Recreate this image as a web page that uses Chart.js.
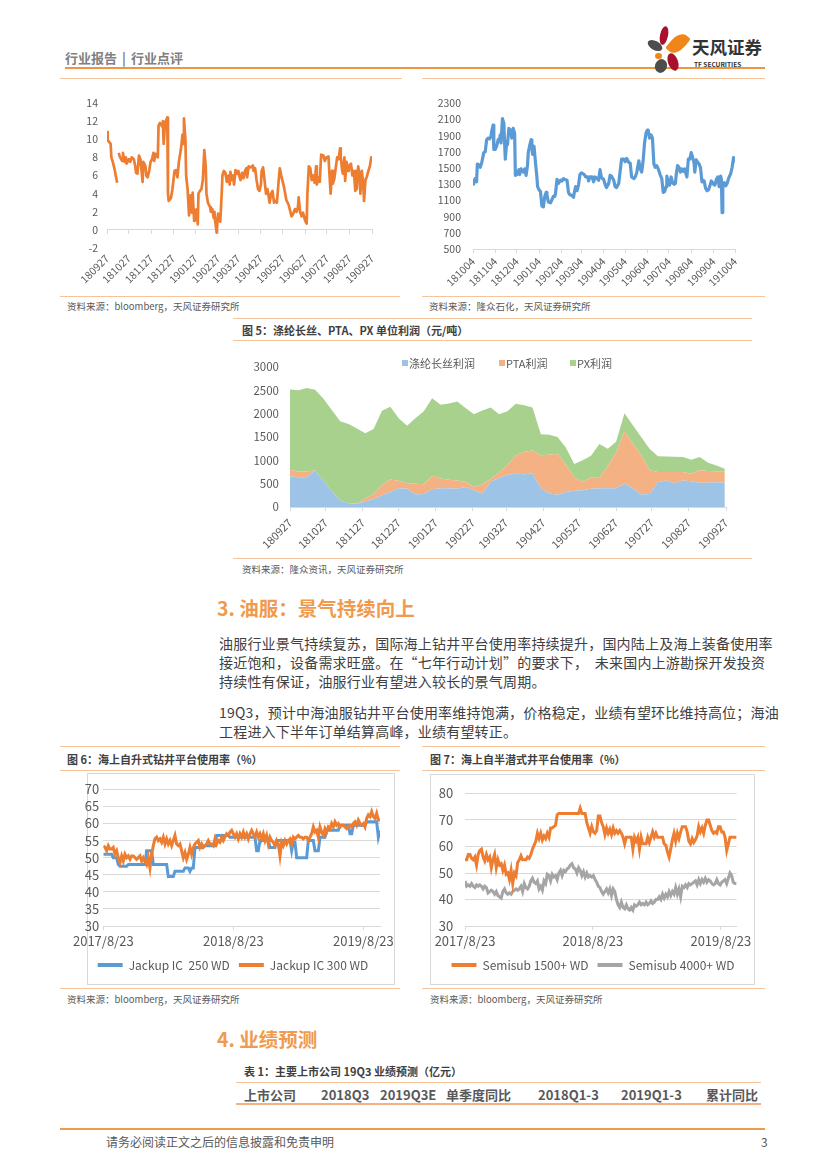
<!DOCTYPE html>
<html><head><meta charset="utf-8">
<script src="https://cdn.jsdelivr.net/npm/chart.js@4.4.0/dist/chart.umd.min.js"></script>
<style>
html,body{margin:0;padding:0;background:#fff;}
#page{position:relative;width:827px;height:1169px;overflow:hidden;background:#fff;font-family:"Noto Sans CJK SC","Noto Sans",sans-serif;}
.t{position:absolute;white-space:nowrap;line-height:1;}
.hl{position:absolute;height:1px;background:#F6C49A;}
.box{position:absolute;border:1px solid #D9D9D9;box-sizing:border-box;}
.cw{position:absolute;}
.petal{position:absolute;border-radius:50%;}
.src{font-size:9.5px;color:#595959;}
.ftitle{font-size:11px;font-weight:bold;color:#404040;}
.para{font-size:14px;color:#404040;letter-spacing:0.2px;}
.h2{font-size:19.5px;font-weight:bold;color:#EF9A4E;}
.th{font-size:13px;font-weight:bold;color:#595959;}
.lg{font-size:11px;color:#595959;}
.lgbox{position:absolute;width:6px;height:6px;}
</style></head>
<body><div id="page">

<!-- header -->
<div class="t" style="left:65px;top:51px;font-size:13px;font-weight:bold;color:#808080;">行业报告<span style="margin:0 5px;">|</span>行业点评</div>
<div style="position:absolute;left:65px;top:67px;width:700px;height:2px;background:#EF9440;"></div>
<div class="petal" style="left:660px;top:26px;width:8px;height:19px;background:#A8102E;transform:rotate(12deg);"></div>
<div class="petal" style="left:671px;top:32px;width:14px;height:23px;background:#F08519;transform:rotate(40deg);border-radius:60% 10% 60% 10%;"></div>
<div class="petal" style="left:647px;top:41px;width:16px;height:9px;background:#4D4D4D;transform:rotate(30deg);"></div>
<div class="petal" style="left:655px;top:53px;width:7px;height:6px;background:#F08519;"></div>
<div class="petal" style="left:668px;top:53px;width:10px;height:18px;background:#A8102E;transform:rotate(-20deg);"></div>
<div class="petal" style="left:655px;top:59px;width:12px;height:14px;background:#4D4D4D;transform:rotate(20deg);"></div>
<div class="t" style="left:692px;top:38px;font-size:17.5px;font-weight:bold;color:#333;">天风证券</div>
<div class="t" style="left:694px;top:61px;font-size:6.5px;font-weight:bold;color:#333;">TF SECURITIES</div>
<div class="hl" style="left:60px;top:78px;width:342px;"></div>
<div class="hl" style="left:422px;top:78px;width:343px;"></div>

<!-- top-left chart -->
<div class="cw" style="left:60px;top:85px;width:340px;height:210px;"><canvas id="c1"></canvas></div>
<div class="hl" style="left:60px;top:296px;width:340px;"></div>
<div class="t src" style="left:67px;top:302px;">资料来源：bloomberg，天风证券研究所</div>

<!-- top-right chart -->
<div class="cw" style="left:420px;top:85px;width:345px;height:210px;"><canvas id="c2"></canvas></div>
<div class="hl" style="left:422px;top:296px;width:343px;"></div>
<div class="t src" style="left:429px;top:302px;">资料来源：隆众石化，天风证券研究所</div>

<!-- figure 5 -->
<div class="hl" style="left:233px;top:318px;width:519px;"></div>
<div class="t ftitle" style="left:242px;top:324.5px;">图 5：涤纶长丝、PTA、PX 单位利润（元/吨）</div>
<div class="hl" style="left:233px;top:340px;width:519px;"></div>
<div class="cw" style="left:233px;top:345px;width:522px;height:210px;"><canvas id="c5"></canvas></div>
<div class="lgbox" style="left:402px;top:360px;background:#9DC3E6;"></div>
<div class="t lg" style="left:409px;top:357.5px;">涤纶长丝利润</div>
<div class="lgbox" style="left:499px;top:360px;background:#F4B183;"></div>
<div class="t lg" style="left:506px;top:357.5px;">PTA利润</div>
<div class="lgbox" style="left:570px;top:360px;background:#A9D18E;"></div>
<div class="t lg" style="left:577px;top:357.5px;">PX利润</div>
<div class="hl" style="left:233px;top:558px;width:519px;"></div>
<div class="t src" style="left:242px;top:565px;">资料来源：隆众资讯，天风证券研究所</div>

<!-- section 3 -->
<div class="t h2" style="left:217px;top:598px;">3. 油服：景气持续向上</div>
<div class="t para" style="left:219px;top:635.5px;">油服行业景气持续复苏，国际海上钻井平台使用率持续提升，国内陆上及海上装备使用率</div>
<div class="t para" style="left:219px;top:654.5px;">接近饱和，设备需求旺盛。在“七年行动计划”的要求下，&nbsp;&nbsp;未来国内上游勘探开发投资</div>
<div class="t para" style="left:219px;top:674px;">持续性有保证，油服行业有望进入较长的景气周期。</div>
<div class="t para" style="left:219px;top:704.5px;">19Q3，预计中海油服钻井平台使用率维持饱满，价格稳定，业绩有望环比维持高位；海油</div>
<div class="t para" style="left:219px;top:723.5px;">工程进入下半年订单结算高峰，业绩有望转正。</div>

<!-- figure 6 -->
<div class="hl" style="left:60px;top:746px;width:340px;"></div>
<div class="t ftitle" style="left:67px;top:754px;">图 6：海上自升式钻井平台使用率（%）</div>
<div class="hl" style="left:60px;top:770px;width:340px;"></div>
<div class="box" style="left:87px;top:773px;width:308px;height:212px;"></div>
<div class="cw" style="left:66px;top:774px;width:334px;height:210px;"><canvas id="c6"></canvas></div>
<div class="hl" style="left:60px;top:988px;width:340px;"></div>
<div class="t src" style="left:67px;top:995px;">资料来源：bloomberg，天风证券研究所</div>

<!-- figure 7 -->
<div class="hl" style="left:422px;top:746px;width:343px;"></div>
<div class="t ftitle" style="left:430px;top:754px;">图 7：海上自半潜式井平台使用率（%）</div>
<div class="hl" style="left:422px;top:770px;width:343px;"></div>
<div class="box" style="left:430px;top:774px;width:325px;height:211px;"></div>
<div class="cw" style="left:430px;top:774px;width:325px;height:210px;"><canvas id="c7"></canvas></div>
<div class="hl" style="left:422px;top:988px;width:343px;"></div>
<div class="t src" style="left:430px;top:995px;">资料来源：bloomberg，天风证券研究所</div>

<!-- section 4 -->
<div class="t h2" style="left:217px;top:1029px;">4. 业绩预测</div>
<div class="t ftitle" style="left:244px;top:1066px;">表 1：主要上市公司 19Q3 业绩预测（亿元）</div>
<div class="hl" style="left:236px;top:1082px;width:525px;"></div>
<div class="t th" style="left:244px;top:1087.5px;">上市公司</div>
<div class="t th" style="left:321px;top:1087.5px;">2018Q3</div>
<div class="t th" style="left:380px;top:1087.5px;">2019Q3E</div>
<div class="t th" style="left:446px;top:1087.5px;">单季度同比</div>
<div class="t th" style="left:538px;top:1087.5px;">2018Q1-3</div>
<div class="t th" style="left:621px;top:1087.5px;">2019Q1-3</div>
<div class="t th" style="left:706px;top:1087.5px;">累计同比</div>
<div style="position:absolute;left:236px;top:1103px;width:525px;height:2px;background:#F4B183;"></div>

<!-- footer -->
<div style="position:absolute;left:60px;top:1128px;width:705px;height:2px;background:#EF9A4A;"></div>
<div class="t" style="left:106px;top:1135.5px;font-size:12px;color:#595959;">请务必阅读正文之后的信息披露和免责申明</div>
<div class="t" style="left:761px;top:1135.5px;font-size:12px;color:#595959;">3</div>

</div>
<script>
// ---------- data ----------
// Top-left chart (dates: days after 2018-09-27)
const leftDays = [
 0,1,5,6,8,11,12,14,15,16,
 18,21,22,24,26,27,30,32,34,37,
 39,40,42,44,46,47,49,50,53,54,
 56,58,60,62,64,65,67,70,71,73,
 76,77,78,80,82,83,84,85,88,90,
 93,95,97,99,102,104,105,106,108,109,
 111,113,115,117,118,120,121,123,124,125,
 126,128,130,132,134,136,137,139,142,143,
 145,147,148,149,151,153,155,156,158,159,
 161,163,165,167,169,170,172,174,175,177,
 179,181,182,184,186,188,190,192,193,195,
 198,201,202,204,206,208,210,212,213,215,
 217,219,221,223,224,226,228,230,232,234,
 236,238,240,243,245,247,250,252,254,256,
 259,261,263,264,266,268,270,273,275,276,
 278,280,282,284,286,288,289,291,293,295,
 298,300,302,305,308,310,311,313,315,317,
 319,321,322,324,325,327,328,330,332,333,
 336,338,340,342,343,344,346,348,349,351,
 353,354,356,358,360,362,364,365];
const leftValues = [
 10.8,9.9,9.5,8.0,7.5,6.5,6.0,5.2,null,8.5,
 8.0,7.6,8.5,7.5,8.0,7.3,7.8,7.5,8.0,7.8,
 7.0,6.3,6.2,8.2,7.8,7.0,5.3,7.5,7.0,6.0,
 5.8,6.5,7.5,7.8,8.5,7.6,8.4,8.0,11.5,11.8,
 11.4,12.0,9.5,11.8,12.2,12.4,4.0,3.2,3.5,4.4,
 6.5,6.6,5.8,7.5,9.0,10.5,9.5,12.3,10.0,6.0,
 4.5,1.6,3.8,1.9,4.1,1.0,2.2,1.5,2.3,0.6,
 4.0,4.3,4.5,5.5,8.8,7.0,4.0,3.0,2.5,2.0,
 2.3,1.3,2.0,1.0,-0.3,1.8,1.2,0.9,4.0,6.0,
 6.5,6.3,5.3,6.0,5.0,6.4,5.5,6.0,5.0,6.6,
 6.2,6.5,6.0,5.5,6.3,5.7,6.5,6.8,5.8,7.0,
 6.9,7.1,6.5,6.8,5.5,4.5,4.3,5.0,6.5,6.9,
 5.5,4.0,4.5,3.5,3.0,4.0,4.3,3.0,3.2,3.0,
 5.0,6.8,6.0,5.0,4.2,3.3,2.8,2.2,1.5,1.7,
 2.3,2.0,2.5,3.6,2.0,1.5,1.9,1.0,0.7,4.0,
 7.0,6.8,5.5,6.0,5.2,7.0,5.0,5.8,5.3,8.3,
 8.2,7.6,8.0,8.1,4.0,6.5,5.1,5.6,6.8,8.0,
 7.8,9.0,8.0,6.5,6.2,8.0,5.4,7.5,6.5,7.0,
 7.3,6.0,6.5,4.3,6.5,4.5,7.0,6.0,4.0,6.5,
 5.0,3.2,5.5,5.9,6.5,7.0,8.0,7.8];
const monthLabelsA = ['180927','181027','181127','181227','190127','190227','190327','190427','190527','190627','190727','190827','190927'];
const monthDaysA = [0,30,61,91,122,153,181,212,242,273,303,334,365];

// Top-right chart (days after 2018-10-04)
const rightDays = [
 0,1,3,5,6,8,10,12,15,17,
 19,21,23,25,26,28,29,31,33,35,
 37,38,39,41,43,44,45,47,48,50,
 51,53,54,56,58,59,61,64,65,67,
 70,72,74,76,77,79,81,82,83,85,
 87,89,90,92,94,96,98,100,102,103,
 105,108,110,112,114,115,117,119,122,124,
 126,128,131,133,135,138,140,141,143,145,
 147,149,151,153,155,157,160,161,163,166,
 168,170,173,175,177,179,182,184,186,189,
 191,193,196,198,200,203,205,207,210,212,
 214,217,219,221,224,226,228,231,233,235,
 237,239,241,243,244,246,248,250,252,254,
 256,258,261,263,265,267,269,270,272,274,
 276,278,280,282,283,285,287,289,291,293,
 295,296,298,300,302,304,306,308,309,311,
 313,315,317,319,320,322,324,326,328,330,
 332,333,335,337,339,341,343,345,346,347,
 348,350,352,354,356,357,359,361,363,364,
 365];
const rightValues = [
 1302,1330,1370,1330,1550,1542,1510,1560,1690,1700,
 1850,1870,1860,1890,1950,2030,1730,1730,1770,1850,
 1860,1910,1810,2110,2050,1810,1610,1830,1790,1990,
 1910,1970,1870,1990,1930,1410,1420,1480,1420,1490,
 1450,1490,1410,1540,1690,1780,1850,1770,1670,1770,
 1570,1390,1270,1230,1210,1030,1020,1150,1200,1170,
 1080,1070,1110,1150,1150,1190,1360,1310,1350,1340,
 1370,1360,1350,1200,1170,1160,1140,1190,1270,1220,
 1290,1420,1440,1430,1420,1390,1390,1340,1390,1390,
 1330,1390,1370,1350,1480,1380,1360,1300,1260,1310,
 1410,1400,1350,1270,1260,1310,1460,1610,1610,1580,
 1620,1570,1560,1390,1370,1390,1440,1590,1490,1450,
 1590,1810,1930,1970,1970,1870,1910,1870,1550,1510,
 1530,1490,1410,1370,1200,1210,1270,1400,1330,1290,
 1390,1320,1300,1310,1410,1530,1510,1450,1490,1460,
 1490,1450,1390,1610,1610,1690,1630,1560,1450,1600,
 1570,1550,1500,1330,1350,1340,1250,1220,1230,1280,
 1340,1330,1300,1290,1360,1390,1270,1400,1360,950,
 1310,1320,1280,1310,1370,1390,1430,1510,1630,1610,
 1570];
const monthLabelsB = ['181004','181104','181204','190104','190204','190304','190404','190504','190604','190704','190804','190904','191004'];
const monthDaysB = [0,31,61,92,123,151,182,212,243,273,304,335,365];

// Figure 5: weekly profit (元/吨), weeks after 2018-09-27
const fig5Weeks = Array.from({length:53}, (_, i) => i * 7);
const filamentProfit = [660,640,640,780,560,330,140,80,70,120,170,250,320,400,390,270,280,380,400,400,390,430,360,290,540,620,690,710,700,720,400,290,260,320,350,360,390,400,400,400,500,400,270,280,530,570,510,570,550,520,520,530,520];
const ptaProfit = [140,120,120,0,0,0,0,0,0,60,110,220,270,160,125,230,210,290,210,185,180,110,70,200,60,120,210,400,480,490,710,830,880,580,280,180,240,220,480,770,1120,960,840,510,220,180,240,180,165,265,250,235,230];
const pxProfit = [1720,1740,1790,1730,1760,1750,1700,1700,1610,1400,1390,1590,1560,1340,1225,1400,1560,1660,1580,1635,1690,1580,1560,1580,1530,1250,1150,1100,1000,920,450,430,360,370,290,460,470,730,370,230,390,390,390,460,340,330,325,320,295,285,180,125,70];

// Figure 6 / 7: utilisation (%), sampled from 2017-08-23
const yearLabels = ['2017/8/23','2018/8/23','2019/8/23'];
const yearDays = [0,365,730];
const fig6SampleDays = 365 / 78;
const jackup250 = [
 51,51,51,51,51,51,50,50,50,48,
 47.5,47.5,47.5,47.5,47.5,48,48,48,48,48,
 48,48,48,48,48,48,52,52,52,52,
 48,48,48,48,48,48,48,48,48,44.5,
 44.5,44.5,44.5,46,46,46,46,46,46,47,
 47,47,46,47,47,53,53,53,53,53,
 53.5,53.5,53.5,53.5,53.5,53.5,53.5,53.5,56.5,56.5,
 56.5,56.5,56.5,56.5,56.5,56.5,56,56,56,56,
 56,56,56,56,56,56,56,56,56,56,
 56,56,52,52,55,55,55,55,55,55,
 53,53,53,53,55,55,55,55,55,55,
 55,55,55,52,54.5,54.5,50,50,50,50,
 50,50,50,55,55,55,55,52,52,52,
 56,56,56,56,58,58,58,58,58,58,
 58,58,59.5,59.5,59.5,59.5,59.5,59.5,57,57,
 59.5,59.5,59.5,59.5,59.5,59.5,59.5,59.5,60.5,60.5,
 60.5,60.5,60.5,60.5,60.5,56,58];
const jackup300 = [
 53.5,53,52,53.5,52.5,52.5,53,51,52,50,
 48.5,50.5,49,51,50,50.5,49.5,50.5,50.5,50,
 49.5,50,50.5,49,50,49,48,50,47,51,
 53.5,55.5,56,55,55.5,54.5,56,54,55.5,54,
 55,53.5,55,56.5,54,53.5,54,52,50,51.5,
 49.5,51,53,51,53,54,54.5,55,53,54,
 53,53.5,54,55,54,54,53.5,55.5,54,55,
 54.5,56,55,56,57,56.5,57.5,58,57,56,
 57,55.5,57,56,57.5,56,57,55.5,57,58,
 57,56,57.5,56,57,55.5,57,55,56.5,54,
 56,55,54.5,53.5,55,54,50.5,54.5,53.5,55,
 54,55,55.5,54,56,55.5,56,56.5,56,56,
 55.5,56,56,55,56,57,59,57.5,58,56,
 59,57.5,56.5,58.5,57.5,59,58.5,60,59,60.5,
 59.5,60,59,59.5,59.5,59,58.5,59,59.5,59,
 60,60.5,59.5,61,60,59.5,60,59,61.5,62.5,
 62,63.5,62,61.5,63,61,61];
const fig7SampleDays = 365 * 5 / 388.5;
const semisub1500 = [
 55,55,57,57,55.5,55,56,53,57,58.5,
 59,56,54.5,57,55,56,52,55,57,52,
 55,53,53.5,51,53,49.5,50,47.5,51,46,
 50,49,54,55,56.5,55,55,55,56,55.5,
 57,59,60.5,62,65,63,65,62.5,64,63,
 65,63.5,67,67,67.5,68,72,72.5,72.5,72.5,
 72.5,72.5,72.5,72.5,72.5,72.5,72.5,72.5,72.5,72.5,
 74.5,72.5,72.5,72.5,69,67,65,67.5,65.5,65,
 66,71.5,71.5,69,67.5,64.5,67,65,66.5,64.5,
 67,65,66,65,66,65,63.5,61,63.5,63.5,
 63.5,63.5,59,63.5,62,63.5,59,63.5,61,61,
 61,63.5,61.5,63.5,65.5,63.5,65,63.5,63.5,63.5,
 63.5,61,60.5,58,56,59,62.5,65,62,65,
 63,65.5,67.5,67.5,67.5,65.5,62,61,63,61.5,
 62.5,64,67.5,65.5,67,65,68,70,70,68,
 66,65,65.5,65,67.5,67.5,65.5,65.5,63.5,58.5,
 61,63.5,63.5,63.5,63.5,63.5];
const semisub4000 = [
 47,45,45.5,45,46,45,44.5,45.5,45,45.5,
 45,44,45,44.5,42.5,43,43.5,43,42,43,
 41.5,41,40.5,43,44,42.5,42,42.5,42,43,
 43.5,44,43.5,44,45,43,46,44.5,44,45,
 47,48,46.5,46,47,44,45,43.5,47,46,
 49.5,49,47,49.5,48.5,49,47.5,50,51,49,
 51,50.5,51.5,52,53,53.5,52,51.5,50,52,
 51,49,50.5,48.5,50,48.5,49,48.5,49,47.5,
 46.5,45,44.5,43,42,43,44,42.5,44,41.5,
 44,43,40,38,37,39,37,36.5,38,36.5,
 36,37,36,38,37.5,38,39,38,38.5,38,
 39,38,38.5,39.5,38.5,39,40,40,41,40,
 42,40.5,42,41,43,41.5,43,42,44.5,42,
 44,41,45,44.5,45.5,44.5,46,45.5,46,46.5,
 47,45.5,47.5,46,47.5,46.5,48,46.5,47.5,47,
 46,45.5,46,47.5,46,45.5,46.5,47,47.5,46,
 48,50,49,46.5,46,46];

// ---------- helpers ----------
const zip = (xs, ys) => xs.slice(0, Math.min(xs.length, ys.length)).map((x, i) => ({x, y: ys[i]}));
const sampled = (ys, step) => ys.map((y, i) => ({x: i * step, y}));
const fixedTicks = vals => axis => { axis.ticks = vals.map(v => ({value: v})); };
const plain = v => String(v);
const GRAY = '#D9D9D9';
const TXT = '#595959';
Chart.defaults.font.family = "'Noto Sans CJK SC','Noto Sans',sans-serif";
Chart.defaults.color = TXT;
Chart.defaults.animation = false;
Chart.defaults.responsive = true;
Chart.defaults.maintainAspectRatio = false;
Chart.defaults.events = [];
Chart.defaults.plugins.tooltip.enabled = false;
const lineLegend = {
  position: 'bottom',
  labels: {
    boxWidth: 25, boxHeight: 4, padding: 9, font: {size: 12}, color: TXT,
    sort: (a, b) => a.datasetIndex - b.datasetIndex,
    generateLabels: chart => Chart.defaults.plugins.legend.labels.generateLabels(chart).map(l => Object.assign(l, {lineWidth: 0}))
  }
};
// moves the (horizontally centred) legend to where the reference has it
const legendShift = dx => ({id: 'legendShift', afterLayout(chart) { if (chart.legend) { chart.legend.left += dx; chart.legend.right += dx; } }});

// ---------- top-left ----------
new Chart(document.getElementById('c1'), {
  type: 'line',
  data: {datasets: [{data: zip(leftDays, leftValues), borderColor: '#ED7D31', borderWidth: 2.7, pointRadius: 0, spanGaps: false, borderJoinStyle: 'round'}]},
  options: {
    layout: {padding: {top: 18, right: 28, bottom: 0, left: 0}},
    plugins: {legend: {display: false}},
    scales: {
      x: {type: 'linear', min: 0, max: 365, afterBuildTicks: fixedTicks(monthDaysA),
          ticks: {autoSkip: false, minRotation: 45, maxRotation: 45, padding: 4, font: {size: 10.5}, callback: (v, i) => monthLabelsA[i]},
          grid: {display: false, drawTicks: false}, border: {display: false}, afterFit: a => { a.height = 47; }},
      xz: {type: 'linear', axis: 'x', position: {y: 0}, min: 0, max: 365, afterBuildTicks: fixedTicks(monthDaysA),
          ticks: {display: false}, grid: {drawOnChartArea: false, tickLength: 4, color: GRAY}, border: {color: GRAY}},
      y: {min: -2, max: 14, ticks: {stepSize: 2, padding: 9, font: {size: 10.5}, autoSkip: false, callback: plain},
          grid: {display: false, drawTicks: false}, border: {display: false}, afterFit: a => { a.width = 47; }}
    }
  }
});

// ---------- top-right ----------
new Chart(document.getElementById('c2'), {
  type: 'line',
  data: {datasets: [{data: zip(rightDays, rightValues), borderColor: '#5B9BD5', borderWidth: 3.2, pointRadius: 0, borderJoinStyle: 'round'}]},
  options: {
    layout: {padding: {top: 14, right: 30, bottom: 0, left: 0}},
    plugins: {legend: {display: false}},
    scales: {
      x: {type: 'linear', min: 0, max: 365, afterBuildTicks: fixedTicks(monthDaysB),
          ticks: {autoSkip: false, minRotation: 45, maxRotation: 45, padding: 2, font: {size: 10.5}, callback: (v, i) => monthLabelsB[i]},
          grid: {drawOnChartArea: false, tickLength: 4, color: GRAY}, border: {color: GRAY}, afterFit: a => { a.height = 46; }},
      y: {min: 500, max: 2300, ticks: {stepSize: 200, padding: 12, font: {size: 10.5}, autoSkip: false, callback: plain},
          grid: {display: false, drawTicks: false}, border: {display: false}, afterFit: a => { a.width = 53; }}
    }
  }
});

// ---------- figure 5 ----------
const areaDs = (label, ys, color, fill) => ({label, data: zip(fig5Weeks, ys), backgroundColor: color, borderColor: color, borderWidth: 0, pointRadius: 0, fill, tension: 0});
new Chart(document.getElementById('c5'), {
  type: 'line',
  data: {datasets: [
    areaDs('涤纶长丝利润', filamentProfit, '#9DC3E6', 'origin'),
    areaDs('PTA利润', ptaProfit, '#F4B183', '-1'),
    areaDs('PX利润', pxProfit, '#A9D18E', '-1')
  ]},
  options: {
    layout: {padding: {top: 22, right: 29, bottom: 0, left: 0}},
    plugins: {legend: {display: false}},
    scales: {
      x: {type: 'linear', min: 0, max: 365, afterBuildTicks: fixedTicks(monthDaysA),
          ticks: {autoSkip: false, minRotation: 45, maxRotation: 45, padding: 5, font: {size: 11}, callback: (v, i) => monthLabelsA[i]},
          grid: {drawOnChartArea: false, tickLength: 4, color: GRAY}, border: {color: GRAY}, afterFit: a => { a.height = 48; }},
      y: {stacked: true, min: 0, max: 3000, ticks: {stepSize: 500, padding: 11, font: {size: 11.5}, autoSkip: false, callback: plain},
          grid: {display: false, drawTicks: false}, border: {display: false}, afterFit: a => { a.width = 57; }}
    }
  }
});

// ---------- figure 6 ----------
new Chart(document.getElementById('c6'), {
  type: 'line',
  data: {datasets: [
    {label: 'Jackup IC  250 WD', data: sampled(jackup250, fig6SampleDays), borderColor: '#5B9BD5', backgroundColor: '#5B9BD5', borderWidth: 3, pointRadius: 0, order: 2},
    {label: 'Jackup IC 300 WD', data: sampled(jackup300, fig6SampleDays), borderColor: '#ED7D31', backgroundColor: '#ED7D31', borderWidth: 3, pointRadius: 0, order: 1}
  ]},
  plugins: [legendShift(10)],
  options: {
    layout: {padding: {top: 15.3, right: 20, bottom: 3, left: 0}},
    plugins: {legend: lineLegend},
    scales: {
      x: {type: 'linear', min: 0, max: 166 * fig6SampleDays, afterBuildTicks: fixedTicks(yearDays),
          ticks: {autoSkip: false, maxRotation: 0, minRotation: 0, padding: 3, font: {size: 13}, callback: (v, i) => yearLabels[i]},
          grid: {drawOnChartArea: false, tickLength: 4, color: GRAY}, border: {color: GRAY}, afterFit: a => { a.height = 24; }},
      y: {min: 30, max: 70, ticks: {stepSize: 5, padding: 4, font: {size: 13}, autoSkip: false, callback: plain},
          grid: {color: GRAY, drawTicks: false}, border: {display: false}, afterFit: a => { a.width = 37.3; }}
    }
  }
});

// ---------- figure 7 ----------
new Chart(document.getElementById('c7'), {
  type: 'line',
  data: {datasets: [
    {label: 'Semisub 1500+ WD', data: sampled(semisub1500, fig7SampleDays), borderColor: '#ED7D31', backgroundColor: '#ED7D31', borderWidth: 3, pointRadius: 0},
    {label: 'Semisub 4000+ WD', data: sampled(semisub4000, fig7SampleDays), borderColor: '#A5A5A5', backgroundColor: '#A5A5A5', borderWidth: 3, pointRadius: 0}
  ]},
  plugins: [legendShift(8)],
  options: {
    layout: {padding: {top: 16, right: 15, bottom: 3, left: 0}},
    plugins: {legend: lineLegend},
    scales: {
      x: {type: 'linear', min: 0, max: 165 * fig7SampleDays, afterBuildTicks: fixedTicks(yearDays),
          ticks: {autoSkip: false, maxRotation: 0, minRotation: 0, padding: 3, font: {size: 13}, callback: (v, i) => yearLabels[i]},
          grid: {drawOnChartArea: false, tickLength: 4, color: GRAY}, border: {color: GRAY}, afterFit: a => { a.height = 24; }},
      y: {min: 30, max: 80, ticks: {stepSize: 10, padding: 11.7, font: {size: 13}, autoSkip: false, callback: plain},
          grid: {color: GRAY, drawTicks: false}, border: {display: false}, afterFit: a => { a.width = 35; }}
    }
  }
});
</script>
</body></html>
